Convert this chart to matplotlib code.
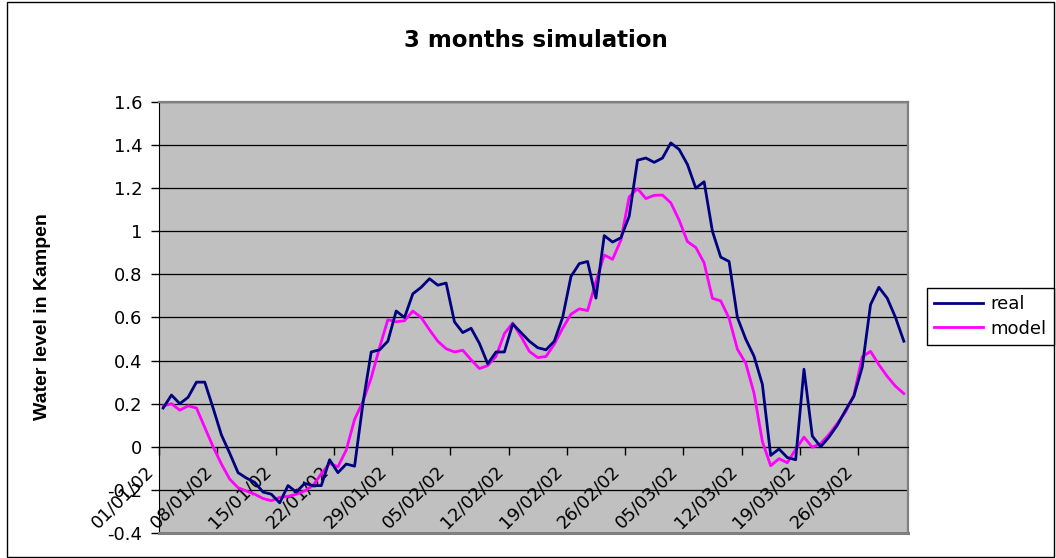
import numpy as np
import pandas as pd
import matplotlib
matplotlib.use('Agg')
import matplotlib.pyplot as plt
from matplotlib.patches import Rectangle
from matplotlib.transforms import ScaledTranslation

# water level in Kampen, one value per day (01/01/02 - 31/03/02)
real = [0.18, 0.24, 0.20, 0.23, 0.30, 0.30, 0.18, 0.055, -0.03, -0.12,
        -0.145, -0.165, -0.21, -0.22, -0.26, -0.18, -0.21, -0.17, -0.18, -0.18,
        -0.06, -0.12, -0.08, -0.09, 0.20, 0.44, 0.45, 0.49, 0.63, 0.60,
        0.71, 0.74, 0.78, 0.75, 0.76, 0.58, 0.53, 0.55, 0.48, 0.385,
        0.44, 0.44, 0.57, 0.53, 0.49, 0.46, 0.45, 0.49, 0.60, 0.79,
        0.85, 0.86, 0.69, 0.98, 0.95, 0.97, 1.07, 1.33, 1.34, 1.32,
        1.34, 1.41, 1.38, 1.31, 1.20, 1.23, 1.00, 0.88, 0.86, 0.60,
        0.50, 0.42, 0.29, -0.04, -0.01, -0.05, -0.06, 0.36, 0.05, 0.00,
        0.045, 0.10, 0.17, 0.235, 0.37, 0.66, 0.74, 0.69, 0.60, 0.49]

model = [0.19, 0.20, 0.17, 0.19, 0.18, 0.09, 0.0, -0.08, -0.15, -0.19,
         -0.205, -0.22, -0.24, -0.25, -0.235, -0.23, -0.22, -0.205, -0.18, -0.125,
         -0.077, -0.093, -0.015, 0.127, 0.21, 0.32, 0.46, 0.59, 0.58, 0.585,
         0.63, 0.60, 0.543, 0.49, 0.455, 0.44, 0.448, 0.404, 0.363, 0.377,
         0.42, 0.525, 0.574, 0.512, 0.443, 0.414, 0.419, 0.476, 0.55, 0.615,
         0.64, 0.632, 0.766, 0.89, 0.87, 0.959, 1.16, 1.198, 1.152, 1.167,
         1.168, 1.132, 1.052, 0.952, 0.925, 0.854, 0.689, 0.677, 0.597, 0.453,
         0.388, 0.249, 0.025, -0.088, -0.055, -0.074, -0.012, 0.045, -0.002, 0.015,
         0.057, 0.108, 0.162, 0.24, 0.417, 0.443, 0.381, 0.327, 0.281, 0.247]

dates = pd.date_range('2002-01-01', periods=len(real), freq='D')
yticks = [-0.4, -0.2, 0, 0.2, 0.4, 0.6, 0.8, 1, 1.2, 1.4, 1.6]

plt.rcParams['font.family'] = ['DejaVu Sans']

W, H = 1056, 558
fig = plt.figure(figsize=(W / 100, H / 100), dpi=100)
ax = fig.add_axes([159 / W, 1 - 533 / H, (908 - 159) / W, (533 - 102) / H])

x = np.arange(len(dates))
ax.plot(x, real, color='#000080', lw=2, label='real', zorder=3)
ax.plot(x, model, color='#FF00FF', lw=2, label='model', zorder=2.8)

ax.set_facecolor('#C0C0C0')
ax.set_xlim(-0.5, len(dates) - 0.5)
ax.set_ylim(-0.4, 1.6)

# x axis crosses at 0 like in excel (set before the ticks, it resets them)
ax.spines['bottom'].set_position(('data', 0))
ax.spines['bottom'].set_color('black')
ax.spines['left'].set_color('black')
for s in ['top', 'right']:
    ax.spines[s].set_color('#808080')
    ax.spines[s].set_linewidth(1.6)
ax.plot([0, 1], [0, 0], transform=ax.transAxes, color='#808080', lw=2.2,
        clip_on=False, zorder=4)

ax.set_yticks(yticks)
ax.set_yticklabels(['%g' % v for v in yticks])
ax.yaxis.grid(True, color='black', lw=0.9)
ax.set_axisbelow(True)

# category axis: ticks between days, one label per week
ax.set_xticks(np.arange(-0.5, len(dates) - 1, 7))
ax.set_xticklabels(dates[::7].strftime('%d/%m/%y'))

ax.tick_params(axis='y', direction='out', length=6, width=1, labelsize=13, pad=6)
ax.tick_params(axis='x', direction='out', length=6, width=1, labelsize=13, pad=2)
shift = ScaledTranslation(-14 / 100, -4 / 100, fig.dpi_scale_trans)
for lab in ax.get_xticklabels():
    lab.set_rotation(45)
    lab.set_ha('right')
    lab.set_rotation_mode('anchor')
    lab.set_transform(lab.get_transform() + shift)

fig.text(536 / W, 1 - 46.7 / H, '3 months simulation', ha='center', va='baseline',
         fontsize=16.5, fontweight='bold')
fig.text(43 / W, 1 - 317 / H, 'Water level in Kampen', rotation=90, ha='center',
         va='center', fontsize=14, fontweight='bold', family='Liberation Sans')

leg = fig.legend(loc='upper left', bbox_to_anchor=(927 / W, 1 - 288 / H), fontsize=13,
                 frameon=True, fancybox=False, edgecolor='black', framealpha=1,
                 handlelength=2.7, handletextpad=0.4, borderaxespad=0, borderpad=0.4,
                 labelspacing=0.35)
leg.get_frame().set_linewidth(1)

fig.add_artist(Rectangle((7 / W, 1 / H), (1054 - 7) / W, (556 - 1) / H,
                         transform=fig.transFigure, fill=False, edgecolor='black', lw=1))

fig.savefig('out.png', dpi=100)
